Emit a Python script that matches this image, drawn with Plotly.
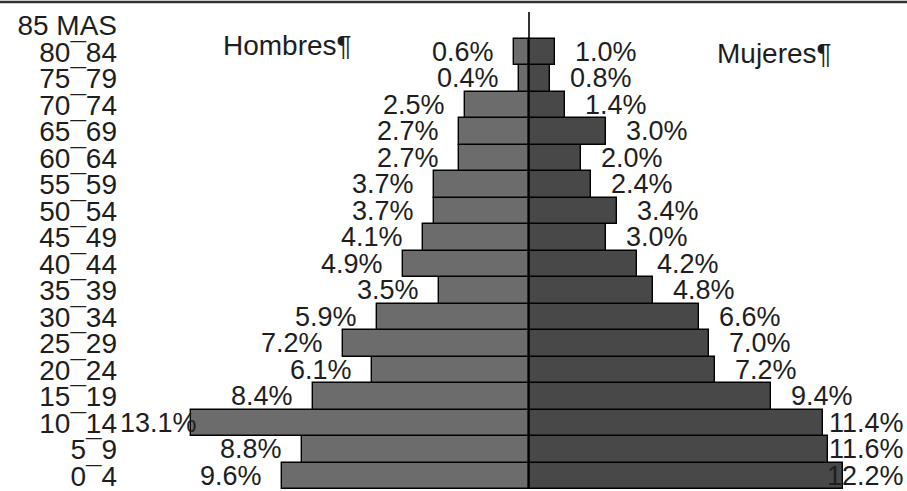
import plotly.graph_objects as go

# ---- data (bottom row first) ----
grupos = ["0¯4", "5¯9", "10¯14", "15¯19", "20¯24", "25¯29", "30¯34", "35¯39",
          "40¯44", "45¯49", "50¯54", "55¯59", "60¯64", "65¯69", "70¯74",
          "75¯79", "80¯84", "85 MAS"]
hombres = [9.6, 8.8, 13.1, 8.4, 6.1, 7.2, 5.9, 3.5, 4.9, 4.1, 3.7, 3.7,
           2.7, 2.7, 2.5, 0.4, 0.6, None]
mujeres = [12.2, 11.6, 11.4, 9.4, 7.2, 7.0, 6.6, 4.8, 4.2, 3.0, 3.4, 2.4,
           2.0, 3.0, 1.4, 0.8, 1.0, None]
etiqueta_h = "Hombres¶"
etiqueta_m = "Mujeres¶"

# ---- layout constants ----
W, H = 907, 491
ML, MR, MT, MB = 118, 1, 12, 0
XMIN, XMAX = -15.95, 14.63
FONT = "Liberation Sans, Arial, sans-serif"
FS = 27        # data labels
FS_TICK = 28   # age groups
FS_TITLE = 28  # Hombres / Mujeres
GAP = 20
plot_w = W - ML - MR
plot_h = H - MT - MB
px_per_unit = plot_w / (XMAX - XMIN)

CW = {"0": .556, "1": .556, "2": .556, "3": .556, "4": .556, "5": .556,
      "6": .556, "7": .556, "8": .556, "9": .556, ".": .278, "%": .889}


def text_w(s):
    return sum(CW.get(c, .556) for c in s) * FS


fig = go.Figure()
fig.add_trace(go.Bar(
    y=grupos, x=[-v if v is not None else None for v in hombres],
    orientation="h", name="Hombres",
    marker=dict(color="#6c6c6c", line=dict(color="#000000", width=1.4)),
    width=1.0, hoverinfo="skip"))
fig.add_trace(go.Bar(
    y=grupos, x=mujeres,
    orientation="h", name="Mujeres",
    marker=dict(color="#484848", line=dict(color="#000000", width=1.4)),
    width=1.0, hoverinfo="skip"))

annotations = []
font = dict(family=FONT, size=FS, color="#1e1e1e")
for g, v in zip(grupos, hombres):
    if v is None:
        continue
    t = f"{v:.1f}%"
    space = (v + XMIN) * -1 * px_per_unit  # pixels between bar end and left edge
    if space < text_w(t) + GAP:
        annotations.append(dict(x=0, xref="paper", y=g, yref="y", text=t,
                                xanchor="left", showarrow=False, font=font))
    else:
        annotations.append(dict(x=-v, xref="x", y=g, yref="y", text=t,
                                xanchor="right", xshift=-GAP + 2,
                                showarrow=False, font=font))
for g, v in zip(grupos, mujeres):
    if v is None:
        continue
    t = f"{v:.1f}%"
    space = (XMAX - v) * px_per_unit
    if space < text_w(t) + GAP:
        annotations.append(dict(x=1, xref="paper", y=g, yref="y", text=t,
                                xanchor="right", showarrow=False, font=font))
    else:
        annotations.append(dict(x=v, xref="x", y=g, yref="y", text=t,
                                xanchor="left", xshift=GAP - 2,
                                showarrow=False, font=font))

tfont = dict(family=FONT, size=FS_TITLE, color="#1e1e1e")
annotations.append(dict(x=(221 - ML) / plot_w, xref="paper",
                        y=1 - (46 - MT) / plot_h, yref="paper",
                        text=etiqueta_h, xanchor="left", yanchor="middle",
                        showarrow=False, font=tfont))
annotations.append(dict(x=(715 - ML) / plot_w, xref="paper",
                        y=1 - (54 - MT) / plot_h, yref="paper",
                        text=etiqueta_m, xanchor="left", yanchor="middle",
                        showarrow=False, font=tfont))

shapes = [
    dict(type="line", xref="x", yref="paper", x0=0, x1=0, y0=0, y1=1,
         line=dict(color="#000000", width=1.6), layer="above"),
    dict(type="line", xref="paper", yref="paper",
         x0=-ML / plot_w, x1=1 + MR / plot_w,
         y0=1 + (MT - 2) / plot_h, y1=1 + (MT - 2) / plot_h,
         line=dict(color="#333333", width=2.5)),
]

fig.update_layout(
    width=W, height=H,
    margin=dict(l=ML, r=MR, t=MT, b=MB, pad=0),
    barmode="overlay", bargap=0,
    showlegend=False,
    plot_bgcolor="white", paper_bgcolor="white",
    annotations=annotations, shapes=shapes,
    xaxis=dict(range=[XMIN, XMAX], visible=False, showgrid=False,
               zeroline=False),
    yaxis=dict(type="category", categoryorder="array", categoryarray=grupos,
               tickmode="array", tickvals=grupos, ticktext=grupos,
               range=[-0.5, len(grupos) - 0.5],
               showgrid=False, zeroline=False, showline=False, ticks="",
               ticklabelstandoff=0,
               tickfont=dict(family=FONT, size=FS_TICK, color="#1e1e1e")),
    font=dict(family=FONT),
)

fig.write_html("out.html",
               config={"displayModeBar": False},
               post_script="document.body.style.margin='0';"
                           "document.body.style.overflow='hidden';")
